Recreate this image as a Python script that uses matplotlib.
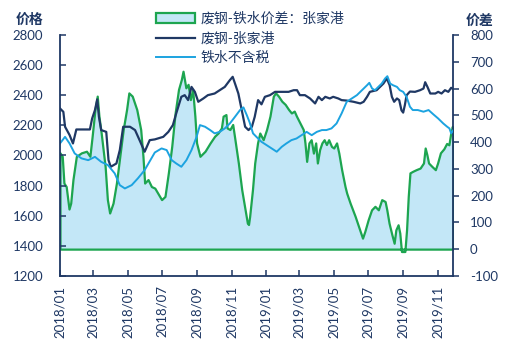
import numpy as np
import pandas as pd
import matplotlib
matplotlib.use("Agg")
import matplotlib.pyplot as plt
import matplotlib.dates as mdates
from matplotlib.patches import Patch
from matplotlib.lines import Line2D

plt.rcParams['font.family'] = ['Lato', 'Noto Sans CJK SC', 'DejaVu Sans']
plt.rcParams['axes.unicode_minus'] = False

NAVY = '#1F3864'
SKY = '#1CA3E0'
GREEN = '#1DA550'
FILL = '#C3E7F7'

# 废钢-张家港 (左轴, 元/吨)
scrap_dates = [
    '2018-01-01', '2018-01-07', '2018-01-10', '2018-01-18', '2018-01-24', '2018-01-30',
    '2018-02-23', '2018-02-27', '2018-03-04', '2018-03-08', '2018-03-11', '2018-03-15',
    '2018-03-24', '2018-03-28', '2018-04-01', '2018-04-11', '2018-04-17', '2018-04-23',
    '2018-05-05', '2018-05-14', '2018-05-22', '2018-05-31', '2018-06-09', '2018-06-18',
    '2018-07-03', '2018-07-12', '2018-07-20', '2018-07-26', '2018-08-04', '2018-08-10',
    '2018-08-16', '2018-08-22', '2018-08-28', '2018-09-03', '2018-09-12', '2018-09-20',
    '2018-10-02', '2018-10-11', '2018-10-20', '2018-10-29', '2018-11-03', '2018-11-07',
    '2018-11-13', '2018-11-19', '2018-11-25', '2018-12-01', '2018-12-07', '2018-12-12',
    '2018-12-18', '2018-12-24', '2018-12-30', '2019-01-08', '2019-01-17', '2019-01-29',
    '2019-02-10', '2019-02-19', '2019-02-25', '2019-03-02', '2019-03-11', '2019-03-20',
    '2019-03-29', '2019-04-04', '2019-04-10', '2019-04-16', '2019-04-24', '2019-04-30',
    '2019-05-09', '2019-05-15', '2019-05-24', '2019-06-05', '2019-06-17', '2019-06-23',
    '2019-06-29', '2019-07-04', '2019-07-16', '2019-07-22', '2019-07-28', '2019-08-03',
    '2019-08-08', '2019-08-12', '2019-08-16', '2019-08-21', '2019-08-25', '2019-08-29',
    '2019-09-01', '2019-09-04', '2019-09-07', '2019-09-13', '2019-09-22', '2019-10-01',
    '2019-10-07', '2019-10-10', '2019-10-14', '2019-10-19', '2019-10-28', '2019-11-02',
    '2019-11-08', '2019-11-14', '2019-11-20', '2019-11-25', '2019-11-29',
]
scrap_price = [
    2313, 2290, 2191, 2136, 2080, 2173,
    2173, 2246, 2302, 2373, 2257, 2169,
    2157, 1969, 1925, 1947, 2036, 2191,
    2191, 2169, 2102, 2025, 2102, 2107,
    2124, 2157, 2202, 2280, 2390, 2401,
    2368, 2456, 2423, 2357, 2379, 2401,
    2412, 2434, 2456, 2501, 2523, 2479,
    2412, 2302, 2191, 2169, 2191, 2257,
    2368, 2340, 2390, 2401, 2423, 2423,
    2423, 2434, 2434, 2401, 2401, 2379,
    2346, 2390, 2368, 2390, 2379, 2390,
    2379, 2368, 2365, 2357, 2346, 2357,
    2390, 2423, 2434, 2456, 2478, 2512,
    2467, 2390, 2357, 2379, 2368, 2300,
    2285, 2335, 2400, 2425, 2423, 2434,
    2445, 2487, 2456, 2412, 2412, 2423,
    2412, 2434, 2423, 2450, 2440,
]

# 铁水不含税 (左轴, 元/吨)
iron_dates = [
    '2018-01-01', '2018-01-10', '2018-01-18', '2018-01-27', '2018-02-08', '2018-02-20',
    '2018-03-04', '2018-03-15', '2018-03-27', '2018-04-08', '2018-04-17', '2018-04-26',
    '2018-05-08', '2018-05-19', '2018-05-31', '2018-06-12', '2018-06-18', '2018-06-30',
    '2018-07-09', '2018-07-18', '2018-07-26', '2018-08-04', '2018-08-13', '2018-08-22',
    '2018-08-31', '2018-09-06', '2018-09-15', '2018-09-24', '2018-10-02', '2018-10-11',
    '2018-10-20', '2018-10-29', '2018-11-07', '2018-11-16', '2018-11-22', '2018-11-28',
    '2018-12-03', '2018-12-09', '2018-12-15', '2018-12-24', '2019-01-02', '2019-01-11',
    '2019-01-20', '2019-01-29', '2019-02-06', '2019-02-15', '2019-02-24', '2019-03-05',
    '2019-03-14', '2019-03-23', '2019-04-01', '2019-04-10', '2019-04-18', '2019-04-27',
    '2019-05-06', '2019-05-15', '2019-05-24', '2019-06-02', '2019-06-11', '2019-06-20',
    '2019-06-29', '2019-07-03', '2019-07-08', '2019-07-13', '2019-07-19', '2019-07-25',
    '2019-07-31', '2019-08-04', '2019-08-09', '2019-08-14', '2019-08-21', '2019-08-26',
    '2019-09-01', '2019-09-07', '2019-09-13', '2019-09-18', '2019-09-27', '2019-10-07',
    '2019-10-16', '2019-10-24', '2019-11-02', '2019-11-11', '2019-11-18', '2019-11-22',
    '2019-11-25', '2019-11-29',
]
iron_price = [
    2080, 2124, 2080, 2014, 1981, 1969,
    1991, 1958, 1936, 1881, 1803, 1781,
    1803, 1848, 1903, 1981, 2020, 2047,
    2036, 1969, 1947, 1925, 1969, 2036,
    2124, 2202, 2191, 2169, 2147, 2157,
    2180, 2213, 2257, 2302, 2320, 2268,
    2220, 2147, 2124, 2091, 2069, 2047,
    2025, 2058, 2080, 2102, 2113, 2135,
    2157, 2135, 2157, 2169, 2169, 2180,
    2213, 2280, 2357, 2379, 2401, 2434,
    2467, 2483, 2445, 2434, 2456, 2478,
    2512, 2527, 2478, 2467, 2456, 2434,
    2423, 2390, 2324, 2302, 2302, 2291,
    2302, 2275, 2246, 2213, 2191, 2180,
    2147, 2169,
]

# 废钢-铁水价差：张家港 (右轴)
spread_dates = [
    '2018-01-01', '2018-01-05', '2018-01-08', '2018-01-12', '2018-01-17', '2018-01-20',
    '2018-01-24', '2018-01-30', '2018-02-08', '2018-02-17', '2018-02-23', '2018-02-27',
    '2018-03-04', '2018-03-08', '2018-03-11', '2018-03-15', '2018-03-22', '2018-03-26',
    '2018-03-30', '2018-04-05', '2018-04-11', '2018-04-17', '2018-04-23', '2018-04-29',
    '2018-05-03', '2018-05-09', '2018-05-17', '2018-05-24', '2018-05-28', '2018-05-31',
    '2018-06-06', '2018-06-12', '2018-06-18', '2018-06-30', '2018-07-06', '2018-07-12',
    '2018-07-18', '2018-07-24', '2018-07-30', '2018-08-04', '2018-08-07', '2018-08-12',
    '2018-08-16', '2018-08-20', '2018-08-24', '2018-08-28', '2018-08-31', '2018-09-06',
    '2018-09-15', '2018-09-24', '2018-10-02', '2018-10-08', '2018-10-14', '2018-10-17',
    '2018-10-22', '2018-10-24', '2018-10-29', '2018-11-03', '2018-11-07', '2018-11-13',
    '2018-11-19', '2018-11-25', '2018-11-29', '2018-12-01', '2018-12-03', '2018-12-08',
    '2018-12-12', '2018-12-17', '2018-12-21', '2018-12-27', '2019-01-02', '2019-01-08',
    '2019-01-14', '2019-01-18', '2019-01-23', '2019-01-29', '2019-02-04', '2019-02-10',
    '2019-02-15', '2019-02-20', '2019-02-24', '2019-03-02', '2019-03-08', '2019-03-11',
    '2019-03-14', '2019-03-18', '2019-03-22', '2019-03-26', '2019-03-30', '2019-04-02',
    '2019-04-06', '2019-04-10', '2019-04-14', '2019-04-18', '2019-04-22', '2019-04-27',
    '2019-05-01', '2019-05-06', '2019-05-10', '2019-05-15', '2019-05-21', '2019-05-24',
    '2019-05-30', '2019-06-08', '2019-06-16', '2019-06-21', '2019-06-25', '2019-07-01',
    '2019-07-07', '2019-07-13', '2019-07-19', '2019-07-25', '2019-07-31', '2019-08-03',
    '2019-08-07', '2019-08-12', '2019-08-16', '2019-08-19', '2019-08-23', '2019-08-26',
    '2019-08-29', '2019-09-04', '2019-09-07', '2019-09-10', '2019-09-13', '2019-09-18',
    '2019-09-24', '2019-10-01', '2019-10-07', '2019-10-10', '2019-10-13', '2019-10-16',
    '2019-10-22', '2019-10-28', '2019-11-01', '2019-11-06', '2019-11-12', '2019-11-17',
    '2019-11-21', '2019-11-24', '2019-11-27', '2019-11-29',
]
spread_value = [
    360, 347, 247, 234, 150, 172,
    260, 347, 360, 366, 347, 422,
    522, 572, 497, 434, 309, 185,
    135, 172, 247, 347, 447, 522,
    584, 572, 522, 447, 347, 247,
    260, 234, 228, 185, 197, 285,
    384, 509, 597, 634, 665, 603,
    616, 559, 597, 497, 397, 347,
    366, 397, 422, 434, 453, 497,
    503, 453, 447, 466, 409, 322,
    222, 147, 97, 92, 122, 222,
    322, 397, 434, 409, 447, 497,
    572, 584, 572, 553, 541, 522,
    509, 516, 497, 472, 447, 397,
    328, 397, 409, 359, 397, 322,
    372, 397, 409, 391, 409, 384,
    378, 397, 359, 297, 234, 209,
    172, 122, 72, 41, 66, 110,
    147, 160, 147, 185, 178, 147,
    97, 54, 22, 72, 91, 60,
    -9, -9, 72, 197, 285, 291,
    297, 303, 322, 378, 353, 322,
    309, 297, 322, 360, 375, 395,
    390, 430, 459, 447,
]

scrap = pd.Series(scrap_price, index=pd.to_datetime(scrap_dates))
iron = pd.Series(iron_price, index=pd.to_datetime(iron_dates))
spread = pd.Series(spread_value, index=pd.to_datetime(spread_dates))

fig = plt.figure(figsize=(5.17, 3.41), dpi=100)
ax = fig.add_axes([0.116, 0.191, 0.761, 0.706])
ax2 = ax.twinx()

# spread area on the right axis, kept under the price lines
ax2.fill_between(spread.index, 0, spread.values, facecolor=FILL,
                 edgecolor=GREEN, linewidth=1.6)
ax.set_zorder(ax2.get_zorder() + 1)
ax.patch.set_visible(False)

ax.plot(scrap.index, scrap.values, color=NAVY, lw=1.6)
ax.plot(iron.index, iron.values, color=SKY, lw=1.4)

ax.set_ylim(1200, 2800)
ax.set_yticks(np.arange(1200, 2801, 200))
ax2.set_ylim(-100, 800)
ax2.set_yticks(np.arange(-100, 801, 100))
ax.set_xlim(pd.Timestamp('2018-01-01'), pd.Timestamp('2019-11-29'))
ax.xaxis.set_major_locator(mdates.MonthLocator(bymonth=[1, 3, 5, 7, 9, 11]))
ax.xaxis.set_major_formatter(mdates.DateFormatter('%Y/%m'))

ax.spines['top'].set_visible(False)
ax2.spines['top'].set_visible(False)
ax.spines['right'].set_visible(False)
for s in ['left', 'bottom']:
    ax.spines[s].set_color(NAVY)
    ax.spines[s].set_linewidth(1.3)
ax2.spines['right'].set_color(NAVY)
ax2.spines['right'].set_linewidth(1.3)
ax2.spines['left'].set_visible(False)
ax2.spines['bottom'].set_visible(False)

ax.tick_params(axis='y', direction='in', length=4, width=1.1, color=NAVY,
               labelcolor=NAVY, labelsize=9.5, pad=12)
ax.tick_params(axis='x', direction='in', length=4, width=1.1, color=NAVY,
               labelcolor=NAVY, labelsize=9.5, pad=7, labelrotation=90)
ax2.tick_params(axis='y', direction='out', length=4, width=1.1, color=NAVY,
                labelcolor=NAVY, labelsize=9.5, pad=8)

fig.text(0.058, 0.944, '价格', ha='center', va='center', fontsize=10,
         fontweight='bold', color=NAVY)
fig.text(0.927, 0.941, '价差', ha='center', va='center', fontsize=10,
         fontweight='bold', color=NAVY)

handles = [
    Patch(facecolor=FILL, edgecolor=GREEN, linewidth=1.6),
    Line2D([], [], color=NAVY, lw=1.6),
    Line2D([], [], color=SKY, lw=1.4),
]
labels = ['废钢-铁水价差：张家港', '废钢-张家港', '铁水不含税']
leg = fig.legend(handles, labels, loc='upper left', bbox_to_anchor=(0.302, 0.966),
                 frameon=False, fontsize=10, handlelength=2.8, handleheight=0.65,
                 handletextpad=0.4, labelspacing=0.45, borderpad=0, borderaxespad=0)
for t in leg.get_texts():
    t.set_color(NAVY)

fig.savefig('out.png', dpi=100)
